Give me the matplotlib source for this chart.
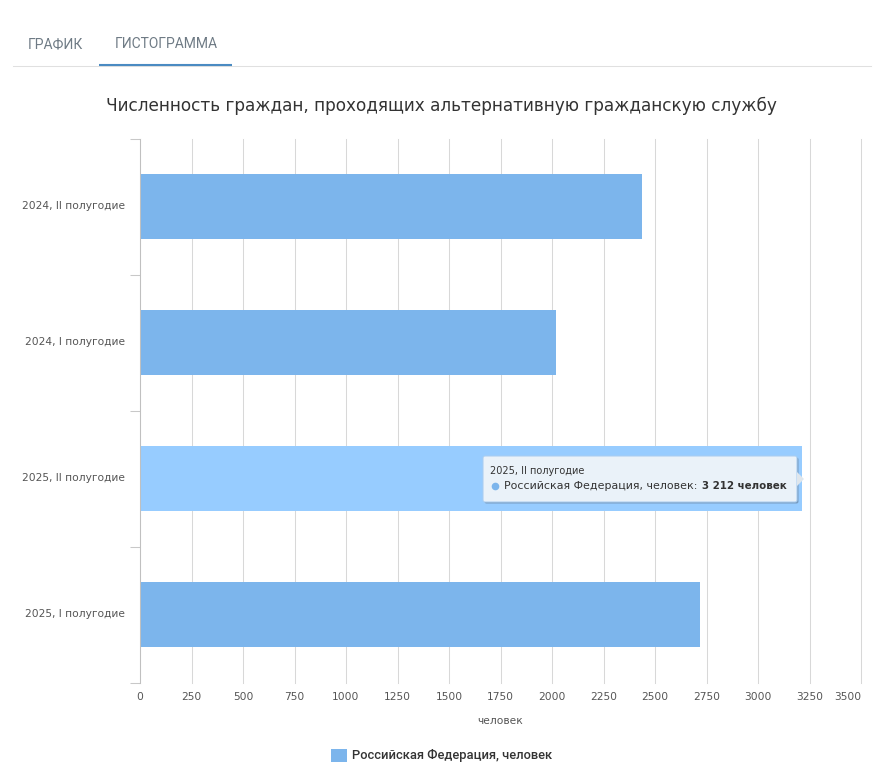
import matplotlib
matplotlib.use('Agg')
import matplotlib.pyplot as plt
from matplotlib.lines import Line2D
from matplotlib.patches import FancyBboxPatch, Polygon, Rectangle
from matplotlib.transforms import Affine2D, ScaledTranslation

W, H = 890, 778

# data
categories = ['2024, II полугодие', '2024, I полугодие', '2025, II полугодие', '2025, I полугодие']
values = [2437, 2020, 3212, 2718]
x_ticks = [0, 250, 500, 750, 1000, 1250, 1500, 1750, 2000, 2250, 2500, 2750, 3000, 3250, 3500]
tabs = ['ГРАФИК', 'ГИСТОГРАММА']
title = 'Численность граждан, проходящих альтернативную гражданскую службу'
unit = 'человек'
series_name = 'Российская Федерация, человек'
hovered = 2

BAR = '#7cb5ec'
BAR_HOVER = '#97ccff'
GRID = '#d8d8d8'
LABEL = '#555555'

fig = plt.figure(figsize=(W / 100, H / 100), dpi=100, facecolor='white')
# pixel coordinates with y going down, same as the screenshot
px = Affine2D().scale(1, -1).translate(0, H)

ax = fig.add_axes([140 / W, 1 - 682.5 / H, 721 / W, 544 / H])
colors = [BAR_HOVER if i == hovered else BAR for i in range(len(values))]
ax.barh(range(len(values)), values, height=0.478, color=colors, zorder=2)
ax.set_xlim(0, 3500)
ax.set_ylim(len(values) - 0.5, -0.5)

ax.set_xticks(x_ticks)
ax.set_yticks(range(len(categories)))
ax.set_yticklabels(categories, va='center_baseline')
ax.set_yticks([i - 0.5 for i in range(len(categories) + 1)], minor=True)
ax.grid(axis='x', color=GRID, lw=0.75, zorder=1, clip_on=False)
ax.tick_params(axis='x', length=0, pad=7, labelsize=7.7, labelcolor=LABEL)
ax.tick_params(axis='y', which='major', length=0, pad=10.5, labelsize=7.7, labelcolor=LABEL)
ax.tick_params(axis='y', which='minor', length=7, width=0.75, color='#c8c8c8')
ax.get_xticklabels()[-1].set_ha('right')
# category labels sit a little above the bar centre
nudge = ScaledTranslation(0, 1.5 / 100, fig.dpi_scale_trans)
for lab in ax.get_yticklabels():
    lab.set_transform(lab.get_transform() + nudge)
for name in ['top', 'right', 'bottom']:
    ax.spines[name].set_visible(False)
ax.spines['left'].set_color('#c0c0c0')
ax.spines['left'].set_linewidth(0.75)
ax.set_xlabel(unit, fontsize=7.7, color=LABEL, labelpad=10)

# tabs on top of the chart
fig.text(28, 48, tabs[0], transform=px, family='Roboto', fontsize=10, color='#6f7b85', va='baseline')
fig.text(115, 48, tabs[1], transform=px, family='Roboto', fontsize=10, color='#6f7b85', va='baseline')
fig.add_artist(Line2D([13, 871], [65.5, 65.5], transform=px, color='#e0e0e0', lw=0.75))
fig.add_artist(Line2D([99, 232], [65, 65], transform=px, color='#4a8bc2', lw=1.5, solid_capstyle='butt'))

fig.text(441.5, 106, title, transform=px, fontsize=12.13, color='#333333', ha='center', va='center')

# tooltip on the hovered bar
shadow = FancyBboxPatch((484.5, 457.5), 314, 46, boxstyle='round,pad=0,rounding_size=2', transform=px,
                        fc='#6f8fb0', ec='none', alpha=0.8, zorder=5)
box = FancyBboxPatch((483, 456), 314, 46, boxstyle='round,pad=0,rounding_size=2', transform=px,
                     fc='#eaf2f9', ec='#a9cdf0', lw=0.75, zorder=6)
arrow = Polygon([(797, 472), (804, 479), (797, 486)], transform=px, fc='#dfe6ec', ec='none', zorder=7)
fig.add_artist(shadow)
fig.add_artist(box)
fig.add_artist(arrow)
fig.text(490, 471.5, categories[hovered], transform=px, fontsize=7, color='#333333', va='center', zorder=8)
dot = Line2D([495], [486], transform=px, marker='o', ms=5.5, color=BAR, mec='none', zorder=8)
fig.add_artist(dot)
fig.text(503.5, 486, series_name + ':', transform=px, fontsize=7.9, color='#333333', va='center', zorder=8)
value_text = f'{values[hovered]:,}'.replace(',', ' ') + ' ' + unit
fig.text(702, 486, value_text, transform=px, fontsize=7.4, fontweight='bold', color='#333333', va='center', zorder=8)

# legend
fig.add_artist(Rectangle((331, 749), 16, 13, transform=px, fc=BAR, ec='none'))
fig.text(352, 756, series_name, transform=px, family='Roboto', fontsize=9.3, fontweight='medium', color='#333333', va='center')

fig.savefig('out.png', dpi=100)
